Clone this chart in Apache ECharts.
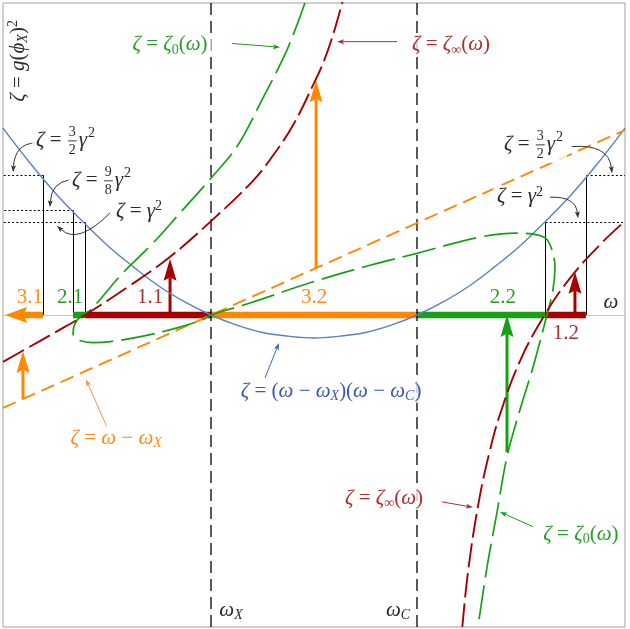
<!DOCTYPE html>
<html><head><meta charset="utf-8">
<script src="https://cdn.jsdelivr.net/npm/echarts@6.0.0/dist/echarts.min.js"></script>
<style>html,body{margin:0;padding:0;background:#fff;}#chart{width:630px;height:629px;}</style>
</head><body><div id="chart"></div>
<script>
// ===================== DATA =====================
const omegaMarkers = [0, 1];            // ω_X , ω_C
const omegaMarkerSub = ['X', 'C'];

// ζ = (ω − ω_X)(ω − ω_C)
const parabolaOmega = [-1.01,-0.875,-0.75,-0.625,-0.5,-0.375,-0.25,-0.125,0,0.125,0.25,0.375,0.5,0.625,0.75,0.875,1,1.125,1.25,1.375,1.5,1.625,1.75,1.875,2.01];
const parabolaZeta  = [2.03,1.64,1.31,1.02,0.75,0.52,0.31,0.14,0,-0.11,-0.19,-0.23,-0.25,-0.23,-0.19,-0.11,0,0.14,0.31,0.52,0.75,1.02,1.31,1.64,2.03];

// ζ = ω − ω_X
const diagonalOmega = [-1.01, 2.01];
const diagonalZeta  = [-1.01, 2.01];

// ζ = ζ∞(ω), two branches
const zetaInfLeftOmega  = [-1.01,-0.9,-0.75,-0.612,-0.4,-0.2,0,0.2,0.3,0.4,0.5,0.55,0.6,0.64];
const zetaInfLeftZeta   = [-0.51,-0.37,-0.18,0,0.31,0.63,1.02,1.45,1.73,2.07,2.52,2.77,3.1,3.42];
const zetaInfRightOmega = [1.22,1.25,1.3,1.35,1.4,1.5,1.62,1.75,1.9,2.01];
const zetaInfRightZeta  = [-3.39,-2.75,-2.03,-1.51,-1.1,-0.5,0,0.42,0.79,1.02];

// ζ = ζ0(ω)
const zeta0Omega = [0.456,0.369,0.248,0.126,0.005,-0.15,-0.282,-0.427,-0.587,-0.626,-0.66,-0.67,-0.646,-0.573,-0.49,-0.33,-0.165,-0.039,0,0.189,0.481,0.772,1.0,1.291,1.485,1.583,1.631,1.66,1.67,1.66,1.631,1.563,1.5,1.437,1.388,1.34,1.296];
const zeta0Zeta  = [3.39,2.88,2.34,1.83,1.5,1.11,0.78,0.46,0.05,0,-0.09,-0.2,-0.27,-0.3,-0.29,-0.23,-0.14,-0.05,0,0.13,0.35,0.54,0.67,0.84,0.89,0.87,0.82,0.67,0.52,0.27,0,-0.57,-1.03,-1.54,-2.15,-2.74,-3.39];

// γ-level markers (vertical solid + dotted level)
const gammaMarkOmega = [-0.816,-0.670,-0.612,1.621,1.820];
const gammaMarkZeta  = [1.52,1.14,1.01,1.01,1.52];
const gammaMarkSide  = [-1,-1,-1,1,1];

// thick intervals on the ω axis
const segFrom  = [-0.816,-0.670,-0.612,0,1,1.621];
const segTo    = [-1.0,-0.612,0,1,1.621,1.820];
const segNames = ['3.1','2.1','1.1','3.2','2.2','1.2'];
const segKind  = ['orange','green','red','orange','green','red'];
const segArrow = [1,0,0,0,0,0];

// thick vertical arrows
const arrowOmega    = [-0.199,0.51,-0.913,1.437,1.767];
const arrowFromZeta = [0,0.51,-0.913,-1.49,0];
const arrowToZeta   = [0.61,2.55,-0.39,0,0.47];
const arrowKind     = ['red','orange','orange','green','red'];

// ===================== STYLE / LAYOUT =====================
const W_MIN=-1.01, W_MAX=2.01, Z_MIN=-3.39, Z_MAX=3.39;
const COL = {orange:'#ff8800', red:'#a80000', green:'#16a016', blue:'#5b80c4'};
const TXT = {orange:'#ff8c1a', red:'#a83030', green:'#2a9c2a', blue:'#3a58b4', black:'#2a2a2a'};
const FONT = '"Liberation Serif","DejaVu Serif",serif';
const FS = 21, FSS = 14;

const segLabelPos = [[-0.879,0.19],[-0.684,0.19],[-0.296,0.19],[0.5,0.19],[1.417,0.19],[1.723,-0.2]];

const mathLabels = [
  {pos:[-0.199,2.935], color:TXT.green, bg:1, t:'{m|ζ}{r| = }{m|ζ}{sr|0}{r|(}{m|ω}{r|)}'},
  {pos:[1.165,2.935],  color:TXT.red,   bg:1, t:'{m|ζ}{r| = }{m|ζ}{sr|∞}{r|(}{m|ω}{r|)}'},
  {pos:[-0.461,-1.337],color:TXT.orange,bg:1, t:'{m|ζ}{r| = }{m|ω}{r| − }{m|ω}{s|X}'},
  {pos:[0.583,-0.826], color:TXT.blue,  bg:1, t:'{m|ζ}{r| = (}{m|ω}{r| − }{m|ω}{s|X}{r|)(}{m|ω}{r| − }{m|ω}{s|C}{r|)}'},
  {pos:[0.840,-1.989], color:TXT.red,   bg:1, t:'{m|ζ}{r| = }{m|ζ}{sr|∞}{r|(}{m|ω}{r|)}'},
  {pos:[1.796,-2.380], color:TXT.green, bg:1, t:'{m|ζ}{r| = }{m|ζ}{sr|0}{r|(}{m|ω}{r|)}'},
  {pos:[-0.481,1.13],  color:TXT.black, bg:1, align:'left', t:'{m|ζ}{r| = }{m|γ}{p|2}'},
  {pos:[1.369,1.283],  color:TXT.black, bg:1, align:'left', t:'{m|ζ}{r| = }{m|γ}{p|2}'},
  {pos:[1.942,0.141],  color:TXT.black, bg:0, t:'{m|ω}'},
  {pos:[0.097,-3.207], color:TXT.black, bg:0, t:'{m|ω}{s|X}'},
  {pos:[0.908,-3.207], color:TXT.black, bg:0, t:'{m|ω}{s|C}'},
  {pos:[-0.937,2.76], color:TXT.black, bg:0, rot:Math.PI/2, t:'{m|ζ}{r| = }{m|g}{r|(}{m|ϕ}{s|X}{r|)}{p|2}'}
];
const fracLabels = [
  {pos:[-0.850,1.891], num:'3', den:'2'},
  {pos:[-0.675,1.457], num:'9', den:'8'},
  {pos:[1.422,1.848],  num:'3', den:'2'}
];
const callouts = [
  {from:[-0.854,1.87], ctrl:[-0.952,1.86], to:[-0.961,1.55], color:'#333'},
  {from:[-0.684,1.47], ctrl:[-0.775,1.44], to:[-0.782,1.17], color:'#333'},
  {from:[-0.490,1.11], ctrl:[-0.646,0.76], to:[-0.748,0.97], color:'#333'},
  {from:[1.752,1.83],  ctrl:[1.930,1.86],  to:[1.947,1.54],  color:'#333'},
  {from:[1.646,1.28],  ctrl:[1.770,1.29],  to:[1.782,1.05],  color:'#333'},
  {from:[0.102,2.95],  to:[0.335,2.91],  color:COL.green},
  {from:[0.903,2.97],  to:[0.612,2.97],  color:'#a83030'},
  {from:[-0.505,-1.22],to:[-0.607,-0.70],color:'#f0924a'},
  {from:[0.262,-0.685],to:[0.330,-0.304],color:'#3a68c0'},
  {from:[1.121,-2.03], to:[1.272,-2.09], color:'#a83030'},
  {from:[1.563,-2.30], to:[1.403,-2.14], color:COL.green}
];

// ===================== CHART =====================
const zip = (a,b) => a.map((v,i)=>[v,b[i]]);
const chart = echarts.init(document.getElementById('chart'), null, {renderer:'canvas'});

function head(tip, ux, uy, len, w, notch) {
  const nx=-uy, ny=ux, bx=tip[0]-ux*len, by=tip[1]-uy*len;
  const mid=[tip[0]-ux*len*(1-notch), tip[1]-uy*len*(1-notch)];
  return {mid, pts:[tip,[bx+nx*w/2,by+ny*w/2],mid,[bx-nx*w/2,by-ny*w/2]]};
}

function curveSeries(name, data, color, width, dash, smooth) {
  return {name, type:'line', data, smooth: smooth||false, showSymbol:false, symbol:'none',
    lineStyle:{color, width, type:dash}, silent:true, animation:false};
}

const series = [];
omegaMarkers.forEach((w,i)=>series.push(curveSeries('omega'+omegaMarkerSub[i], [[w,Z_MIN],[w,Z_MAX]], '#000', 1.3, [12,6])));
series.push(curveSeries('parabola', zip(parabolaOmega, parabolaZeta), COL.blue, 1.4, 'solid', 0.4));
series.push(curveSeries('diagonal', zip(diagonalOmega, diagonalZeta), COL.orange, 1.9, [14,7]));
series.push(curveSeries('zeta0', zip(zeta0Omega, zeta0Zeta), COL.green, 1.7, [34,8], 0.35));
series.push(curveSeries('zinfL', zip(zetaInfLeftOmega, zetaInfLeftZeta), COL.red, 1.9, [24,6], 0.4));
series.push(curveSeries('zinfR', zip(zetaInfRightOmega, zetaInfRightZeta), COL.red, 1.9, [24,6], 0.4));

series.push({type:'custom', name:'gammaMarks', silent:true,
  data: zip(gammaMarkOmega, gammaMarkZeta),
  renderItem(params, api){
    const i=params.dataIndex, w=api.value(0), z=api.value(1);
    const base=api.coord([w,0]), top=api.coord([w,z]);
    const edge=api.coord([gammaMarkSide[i]<0?W_MIN:W_MAX, z]);
    const x=Math.round(top[0])+0.5, y=Math.round(top[1])+0.5;
    return {type:'group', children:[
      {type:'line', shape:{x1:x,y1:base[1],x2:x,y2:y}, style:{stroke:'#000',lineWidth:1}},
      {type:'line', shape:{x1:x,y1:y,x2:edge[0],y2:y}, style:{stroke:'#000',lineWidth:1,lineDash:[2,2.2]}}
    ]};
  }});

series.push({type:'custom', name:'segments', silent:true,
  data: segFrom.map((a,i)=>[a,0,segTo[i],0]),
  renderItem(params, api){
    const i=params.dataIndex;
    const a=api.coord([api.value(0),api.value(1)]), b=api.coord([api.value(2),api.value(3)]);
    const col=COL[segKind[i]];
    if (segArrow[i]) {
      const L=Math.hypot(b[0]-a[0],b[1]-a[1]), ux=(b[0]-a[0])/L, uy=(b[1]-a[1])/L;
      const h=head(b,ux,uy,22,16,0.15);
      return {type:'group', children:[
        {type:'line', shape:{x1:a[0],y1:a[1],x2:h.mid[0],y2:h.mid[1]}, style:{stroke:col,lineWidth:6.5}},
        {type:'polygon', shape:{points:h.pts}, style:{fill:col}}]};
    }
    return {type:'line', shape:{x1:a[0],y1:a[1],x2:b[0],y2:b[1]}, style:{stroke:col,lineWidth:6.5}};
  }});

series.push({type:'custom', name:'arrows', silent:true,
  data: arrowOmega.map((w,i)=>[w,arrowFromZeta[i],w,arrowToZeta[i]]),
  renderItem(params, api){
    const i=params.dataIndex;
    const a=api.coord([api.value(0),api.value(1)]), b=api.coord([api.value(2),api.value(3)]);
    const col=COL[arrowKind[i]];
    const L=Math.hypot(b[0]-a[0],b[1]-a[1]), ux=(b[0]-a[0])/L, uy=(b[1]-a[1])/L;
    const h=head(b,ux,uy,22,13,0.15);
    return {type:'group', children:[
      {type:'line', shape:{x1:a[0],y1:a[1],x2:h.mid[0],y2:h.mid[1]}, style:{stroke:col,lineWidth:3}},
      {type:'polygon', shape:{points:h.pts}, style:{fill:col}}]};
  }});

chart.setOption({
  animation:false,
  grid:{left:3, top:3, width:622, height:624, show:true, borderColor:'#a0a0a0', borderWidth:1},
  xAxis:{type:'value', min:W_MIN, max:W_MAX, axisLine:{show:true,onZero:true,lineStyle:{color:'#c8c8c8',width:1}},
    axisTick:{show:false}, axisLabel:{show:false}, splitLine:{show:false}},
  yAxis:{type:'value', min:Z_MIN, max:Z_MAX, axisLine:{show:false}, axisTick:{show:false}, axisLabel:{show:false}, splitLine:{show:false}},
  series
});

// ===================== ANNOTATIONS =====================
const px = p => chart.convertToPixel({gridIndex:0}, p);
const mctx = document.createElement('canvas').getContext('2d');
const tw = (s,size,it) => { mctx.font=(it?'italic ':'')+size+'px '+FONT; return mctx.measureText(s).width; };
function rich(color){
  return {
    m:{fontFamily:FONT,fontStyle:'italic',fontSize:FS,lineHeight:24,fill:color},
    r:{fontFamily:FONT,fontSize:FS,lineHeight:24,fill:color},
    s:{fontFamily:FONT,fontStyle:'italic',fontSize:FSS,lineHeight:14,verticalAlign:'bottom',fill:color},
    sr:{fontFamily:FONT,fontSize:FSS,lineHeight:14,verticalAlign:'bottom',fill:color},
    p:{fontFamily:FONT,fontSize:FSS,lineHeight:13,verticalAlign:'top',fill:color}
  };
}
const graphics = [];
segNames.forEach((n,i)=>{
  const p=px(segLabelPos[i]);
  graphics.push({type:'text', x:p[0], y:p[1], z:100, style:{text:n, font:'21px '+FONT, fill:TXT[segKind[i]], align:'center', verticalAlign:'middle'}});
});
mathLabels.forEach(L=>{
  const p=px(L.pos);
  const st={text:L.t, rich:rich(L.color), fill:L.color, align:L.align||'center', verticalAlign:'middle'};
  if (L.bg){ st.backgroundColor='rgba(255,255,255,0.75)'; st.padding=[0,4,0,4]; }
  graphics.push({type:'text', x:p[0], y:p[1], rotation:L.rot||0, z:100, style:st});
});
fracLabels.forEach(F=>{
  const p=px(F.pos), c=TXT.black;
  const w0=tw('ζ',FS,true), w1=tw(' = ',FS,false);
  const fx=w0+w1+1, fw=9, gx=fx+fw+2, wg=tw('γ',FS,true), sx=gx+wg+1, tot=sx+tw('2',FSS,false);
  graphics.push({type:'group', x:p[0], y:p[1], z:100, children:[
    {type:'rect', z:100, shape:{x:-4,y:-18,width:tot+8,height:36}, style:{fill:'rgba(255,255,255,0.75)'}},
    {type:'text', z:101, x:0, y:0, style:{text:'ζ', font:'italic '+FS+'px '+FONT, fill:c, verticalAlign:'middle'}},
    {type:'text', z:101, x:w0, y:0, style:{text:' = ', font:FS+'px '+FONT, fill:c, verticalAlign:'middle'}},
    {type:'text', z:101, x:fx+fw/2, y:-8.5, style:{text:F.num, font:FSS+'px '+FONT, fill:c, align:'center', verticalAlign:'middle'}},
    {type:'rect', z:101, shape:{x:fx,y:-0.5,width:fw,height:0.9}, style:{fill:c}},
    {type:'text', z:101, x:fx+fw/2, y:9.5, style:{text:F.den, font:FSS+'px '+FONT, fill:c, align:'center', verticalAlign:'middle'}},
    {type:'text', z:101, x:gx, y:0, style:{text:'γ', font:'italic '+FS+'px '+FONT, fill:c, verticalAlign:'middle'}},
    {type:'text', z:101, x:sx, y:-7.5, style:{text:'2', font:FSS+'px '+FONT, fill:c, verticalAlign:'middle'}}
  ]});
});
callouts.forEach(C=>{
  const a=px(C.from), b=px(C.to), c=C.ctrl?px(C.ctrl):null;
  const d = c ? [b[0]-c[0], b[1]-c[1]] : [b[0]-a[0], b[1]-a[1]];
  const L=Math.hypot(d[0],d[1]), ux=d[0]/L, uy=d[1]/L;
  const h=head(b,ux,uy,7,5,0.2);
  const line = c
    ? {type:'bezierCurve', z:99, shape:{x1:a[0],y1:a[1],cpx1:c[0],cpy1:c[1],x2:h.mid[0],y2:h.mid[1]}, style:{stroke:C.color,lineWidth:1,fill:null}}
    : {type:'line', z:99, shape:{x1:a[0],y1:a[1],x2:h.mid[0],y2:h.mid[1]}, style:{stroke:C.color,lineWidth:1}};
  graphics.push(line);
  graphics.push({type:'polygon', z:99, shape:{points:h.pts}, style:{fill:C.color}});
});
chart.setOption({graphic: graphics});
</script></body></html>
